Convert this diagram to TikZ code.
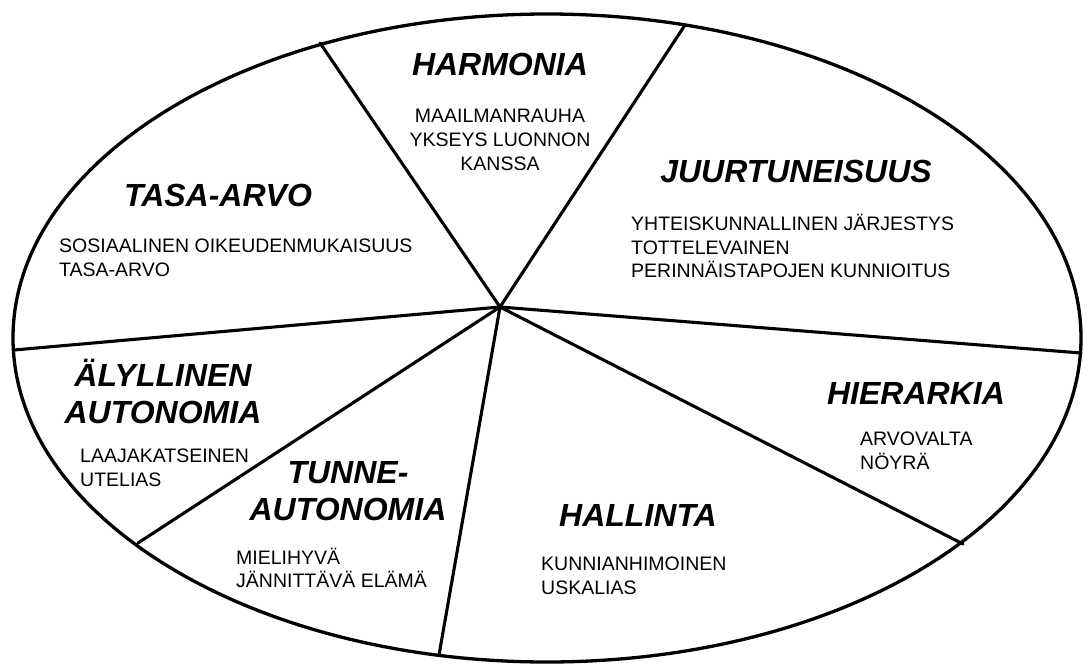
\documentclass[tikz,border=0pt]{standalone}
\usepackage{fontspec}
\setmainfont{Liberation Sans}
\begin{document}
\begin{tikzpicture}[x=1pt,y=-1pt,
  rim/.style={line width=3.3pt},
  spoke/.style={line width=3.1pt, line cap=round},
  title/.style={font=\fontsize{32}{37}\selectfont\bfseries\itshape, align=center, inner sep=0pt},
  body/.style={font=\fontsize{19.5}{23.5}\selectfont, align=left, inner sep=0pt, anchor=west},
  bodyc/.style={font=\fontsize{19.5}{24}\selectfont, align=center, inner sep=0pt}]
\useasboundingbox[fill=white] (0,0) rectangle (1087,664);
% centre and rim points
\coordinate (c) at (500,307);
\coordinate (p1) at (320,43);
\coordinate (p2) at (685,25);
\coordinate (p3) at (1081,353);
\coordinate (p4) at (963,544);
\coordinate (p5) at (439,655);
\coordinate (p6) at (138,543);
\coordinate (p7) at (14,350);
\foreach \p in {p1,p2,p3,p4,p5,p6,p7} \draw[spoke] (c) -- (\p);
\draw[rim] (547,338) ellipse [x radius=534pt, y radius=324pt];
% HARMONIA
\node[title] (harm) at (500,64) {HARMONIA};
\node[bodyc] (harmb) at (500,140) {MAAILMANRAUHA\\YKSEYS LUONNON\\KANSSA};
% TASA-ARVO
\node[title] (tasa) at (218,195) {TASA-ARVO};
\node[body] (tasab) at (59,258) {SOSIAALINEN OIKEUDENMUKAISUUS\\TASA-ARVO};
% JUURTUNEISUUS
\node[title] (juur) at (796,171) {JUURTUNEISUUS};
\node[body] (juurb) at (631,246) {YHTEISKUNNALLINEN JÄRJESTYS\\TOTTELEVAINEN\\PERINNÄISTAPOJEN KUNNIOITUS};
% ÄLYLLINEN AUTONOMIA
\node[title] (aly) at (163,391) {ÄLYLLINEN\\AUTONOMIA};
\node[body] (alyb) at (80,468) {LAAJAKATSEINEN\\UTELIAS};
% TUNNE-AUTONOMIA
\node[title] (tunne) at (348,491) {TUNNE-\\AUTONOMIA};
\node[body] (tunneb) at (236,568) {MIELIHYVÄ\\JÄNNITTÄVÄ ELÄMÄ};
% HALLINTA
\node[title] (hall) at (638,515) {HALLINTA};
\node[body] (hallb) at (541,576) {KUNNIANHIMOINEN\\USKALIAS};
% HIERARKIA
\node[title] (hier) at (916,393) {HIERARKIA};
\node[body] (hierb) at (860,451) {ARVOVALTA\\NÖYRÄ};
\end{tikzpicture}
\end{document}
